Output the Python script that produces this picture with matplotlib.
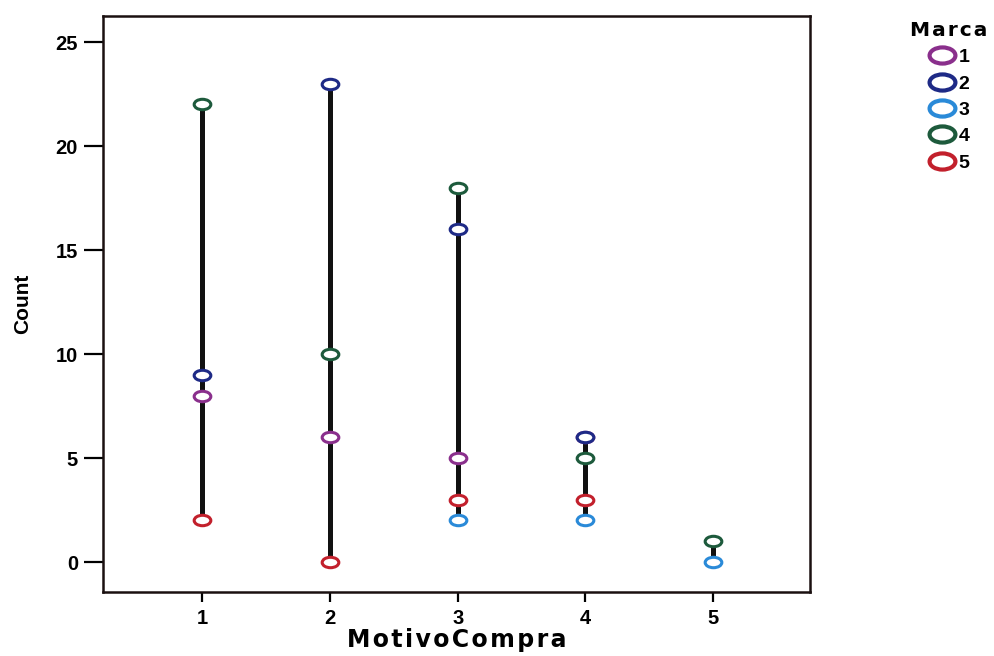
import numpy as np
import matplotlib
matplotlib.use('Agg')
import matplotlib.pyplot as plt
from matplotlib.path import Path

plt.rcParams['font.family'] = ['Liberation Sans', 'DejaVu Sans']
plt.rcParams['font.weight'] = 'bold'

motivo = [1, 2, 3, 4, 5]
marcas = ['1', '2', '3', '4', '5']
# counts per Marca at each MotivoCompra (nan = not shown)
marca1 = [8, 6, 5, 6, np.nan]
marca2 = [9, 23, 16, 6, np.nan]
marca3 = [np.nan, np.nan, 2, 2, 0]
marca4 = [22, 10, 18, 5, 1]
marca5 = [2, 0, 3, 3, np.nan]
colors = ['#8a2f8c', '#1e2a86', '#2a8ad8', '#1d5a3c', '#c2202c']

series = [marca1, marca2, marca3, marca4, marca5]
data = np.array(series, dtype=float)
lo = np.nanmin(data, axis=0)
hi = np.nanmax(data, axis=0)

# wide ellipse ring like the SPSS markers
circ = Path.unit_circle()
ellipse = Path(circ.vertices * [1.6, 1.0], circ.codes)

fig = plt.figure(figsize=(9.95, 6.56), dpi=100)
ax = fig.add_axes([0.1035, 0.0976, 0.711, 0.878])

ax.vlines(motivo, lo, hi, color='#111111', linewidth=3.6, zorder=2)
for vals, c, m in zip(series, colors, marcas):
    ax.plot(motivo, vals, linestyle='none', marker=ellipse, markersize=12,
            markerfacecolor='white', markeredgecolor=c, markeredgewidth=2.2,
            label=m, zorder=3)

ax.set_xlim(0.225, 5.76)
ax.set_ylim(-1.44, 26.25)
ax.set_xticks(motivo)
ax.set_yticks([0, 5, 10, 15, 20, 25])
ax.tick_params(axis='y', length=14, width=1.6, labelsize=14.5, pad=4)
ax.tick_params(axis='x', length=7, width=1.6, labelsize=14.5, pad=5)
for s in ax.spines.values():
    s.set_linewidth(1.8)
    s.set_color('#1a1010')

ax.set_ylabel('Count', fontsize=15, fontweight='bold', labelpad=17)
hair = '\u200a'
ax.set_xlabel(hair.join('MotivoCompra'), fontsize=17, fontweight='bold',
              family='DejaVu Sans', labelpad=0)

leg = fig.legend(loc='upper left', bbox_to_anchor=(0.897, 0.995), frameon=False,
                 title=hair.join('Marca'), fontsize=14, markerscale=1.55,
                 handletextpad=0.1, labelspacing=0.45, handlelength=1.5)
leg.get_title().set_fontweight('bold')
leg.get_title().set_fontsize(14.5)
leg.get_title().set_family('DejaVu Sans')
for h in leg.legend_handles:
    h.set_markeredgewidth(3)

fig.savefig('out.png', dpi=100)
